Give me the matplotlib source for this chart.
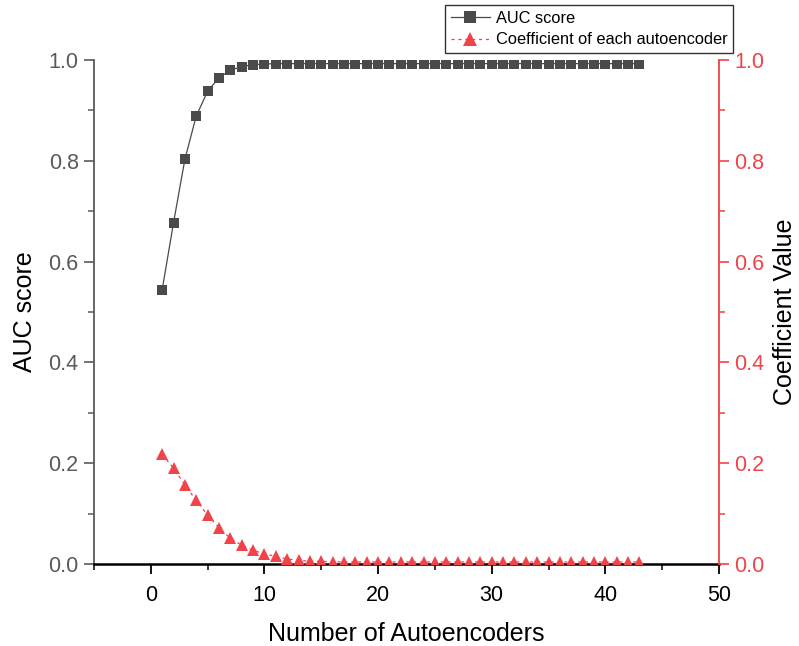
import matplotlib
matplotlib.use("Agg")
import matplotlib.pyplot as plt
from matplotlib.ticker import MultipleLocator

plt.rcParams["font.family"] = ["Liberation Sans", "DejaVu Sans"]

n_autoencoders = list(range(1, 44))
auc_score = [0.544, 0.677, 0.803, 0.889, 0.938, 0.965, 0.980, 0.987, 0.991, 0.992,
             0.993, 0.993, 0.993, 0.993, 0.993, 0.993, 0.993, 0.993, 0.993, 0.993,
             0.993, 0.993, 0.993, 0.993, 0.993, 0.993, 0.993, 0.993, 0.993, 0.993,
             0.993, 0.993, 0.993, 0.993, 0.993, 0.993, 0.993, 0.993, 0.993, 0.993,
             0.993, 0.993, 0.993]
coefficient = [0.218, 0.190, 0.157, 0.126, 0.097, 0.072, 0.051, 0.037, 0.027, 0.020,
               0.015, 0.010, 0.007, 0.0056, 0.005, 0.0045, 0.004, 0.004, 0.004, 0.004,
               0.004, 0.004, 0.004, 0.004, 0.004, 0.004, 0.004, 0.004, 0.004, 0.004,
               0.004, 0.004, 0.004, 0.004, 0.004, 0.004, 0.004, 0.004, 0.004, 0.004,
               0.004, 0.004, 0.004]

GRAY = "#4a4a4a"
AXGRAY = "#5a5a5a"
RED = "#f0434a"

fig = plt.figure(figsize=(7.99, 6.46), dpi=100, facecolor="white")
ax = fig.add_axes([0.1176, 0.127, 0.7823, 0.780])
ax2 = ax.twinx()

l1, = ax.plot(n_autoencoders, auc_score, color=GRAY, linewidth=0.9, marker="s",
              markersize=7.2, markeredgewidth=0, label="AUC score", zorder=3)
l2, = ax2.plot(n_autoencoders, coefficient, color=RED, linewidth=0.9, linestyle=(0, (2.5, 3)),
               marker="^", markersize=8.5, markeredgewidth=0,
               label="Coefficient of each autoencoder", zorder=3)

ax.set_xlim(-5, 50)
ax.set_ylim(0, 1)
ax2.set_ylim(0, 1)
ax.xaxis.set_major_locator(MultipleLocator(10))
ax.xaxis.set_minor_locator(MultipleLocator(5))
for a in (ax, ax2):
    a.yaxis.set_major_locator(MultipleLocator(0.2))
    a.yaxis.set_minor_locator(MultipleLocator(0.1))
    a.yaxis.set_major_formatter(plt.FormatStrFormatter("%.1f"))

for s in ("top", "right"):
    ax.spines[s].set_visible(False)
for s in ("top", "left", "bottom"):
    ax2.spines[s].set_visible(False)
ax.spines["left"].set_color(AXGRAY)
ax.spines["left"].set_linewidth(1.3)
ax.spines["bottom"].set_color("black")
ax.spines["bottom"].set_linewidth(1.8)
ax2.spines["right"].set_color(RED)
ax2.spines["right"].set_linewidth(1.3)

ax.tick_params(axis="x", which="major", direction="out", length=7, width=1.3,
               colors="black", labelsize=15.5, pad=8)
ax.tick_params(axis="x", which="minor", direction="out", length=4, width=1.1, colors="black")
ax.tick_params(axis="y", which="major", direction="out", length=7, width=1.2,
               colors=AXGRAY, labelsize=15.5, pad=4)
ax.tick_params(axis="y", which="minor", direction="out", length=4, width=1.1, colors=AXGRAY)
ax2.tick_params(axis="y", which="major", direction="out", length=7, width=1.2,
                colors=RED, labelsize=15.5, pad=4)
ax2.tick_params(axis="y", which="minor", direction="out", length=4, width=1.1, colors=RED)

ax.set_xlabel("Number of Autoencoders", fontsize=18, labelpad=12)
ax.set_ylabel("AUC score", fontsize=18, labelpad=8)
ax2.set_ylabel("Coefficient Value", fontsize=18, labelpad=6)

leg = fig.legend(handles=[l1, l2], loc="upper right", bbox_to_anchor=(733 / 799, 1 - 5 / 646),
                 fontsize=11.8, frameon=True, fancybox=False, handlelength=2.4,
                 borderpad=0.35, labelspacing=0.4, handletextpad=0.35, borderaxespad=0,
                 markerscale=1.15)
leg.get_frame().set_edgecolor("black")
leg.get_frame().set_linewidth(1.0)

fig.savefig("out.png", dpi=100, facecolor="white")
